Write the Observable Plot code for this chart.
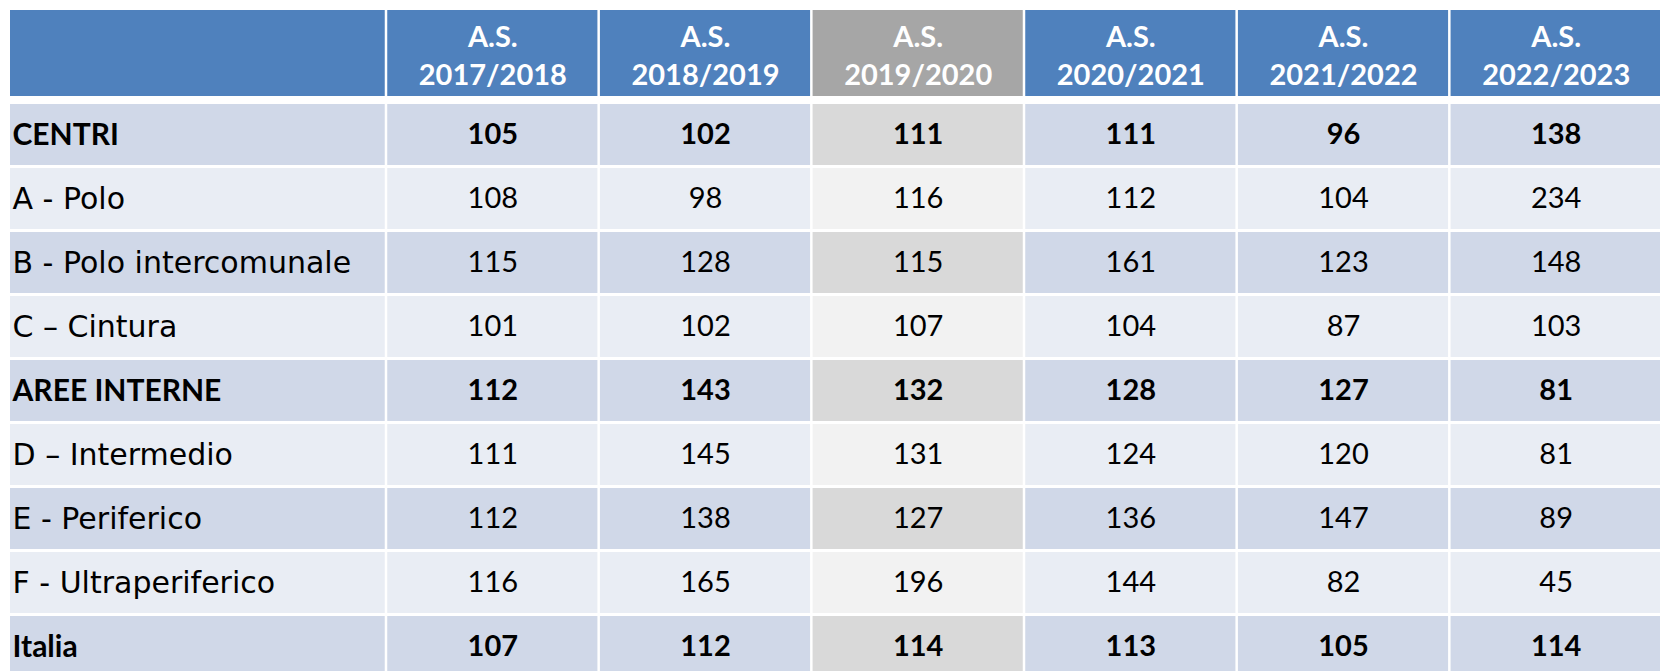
<!DOCTYPE html>
<html>
<head>
<meta charset="utf-8">
<script src="https://cdn.jsdelivr.net/npm/d3@7"></script>
<script src="https://cdn.jsdelivr.net/npm/@observablehq/plot@0.6"></script>
<style>
  html, body { margin: 0; padding: 0; background: #ffffff; }
  #chart svg { display: block; }
</style>
</head>
<body>
<div id="chart"></div>
<script>
// ---- data ----
const rowLabels = ["CENTRI", "A - Polo", "B - Polo intercomunale", "C – Cintura", "AREE INTERNE", "D – Intermedio", "E - Periferico", "F - Ultraperiferico", "Italia"];
const rowIsTotal = [true, false, false, false, true, false, false, false, true];
const years = ["2017/2018", "2018/2019", "2019/2020", "2020/2021", "2021/2022", "2022/2023"];
const as2017 = [105, 108, 115, 101, 112, 111, 112, 116, 107];
const as2018 = [102, 98, 128, 102, 143, 145, 138, 165, 112];
const as2019 = [111, 116, 115, 107, 132, 131, 127, 196, 114];
const as2020 = [111, 112, 161, 104, 128, 124, 136, 144, 113];
const as2021 = [96, 104, 123, 87, 127, 120, 147, 82, 105];
const as2022 = [138, 234, 148, 103, 81, 81, 89, 45, 114];
const series = [as2017, as2018, as2019, as2020, as2021, as2022];
const highlightYear = "2019/2020";

// ---- layout (in scale units) ----
const LABEL_SPAN = 1.768;   // label column width, in year-column units
const HDR = 94 / 64;        // header height, in row units
const W = 1660, H = 671;

const rows = rowLabels.map((label, r) => ({row: r, label, total: rowIsTotal[r]}));
const cells = years.flatMap((year, c) => series[c].map((value, r) => ({
  col: c, row: r, year, value, total: rowIsTotal[r]
})));
const headers = years.map((year, c) => ({col: c, year, text: "A.S.\n" + year}));

const rowFill = (r, hl) => hl ? (r % 2 === 0 ? "#d9d9d9" : "#f2f2f2") : (r % 2 === 0 ? "#d0d8e8" : "#e9edf4");
const FONT = "Lato, 'Open Sans', sans-serif";
const LABEL_FONT = "'DejaVu Sans', Lato, sans-serif";

const chart = Plot.plot({
  width: W,
  height: H,
  margin: 0,
  style: {background: "#ffffff", fontFamily: FONT},
  x: {type: "linear", domain: [-LABEL_SPAN, years.length], range: [10, W + 2], axis: null},
  y: {type: "linear", domain: [-HDR, (H - 104) / 64], range: [10, H], axis: null},
  color: {type: "identity"},
  marks: [
    // header: label column
    Plot.rect([0], {x1: -LABEL_SPAN, x2: 0, y1: -HDR, y2: 0, fill: "#4f81bd", insetRight: 1.25, insetBottom: 8}),
    // header: year columns
    Plot.rect(headers, {
      x1: d => d.col, x2: d => d.col + 1, y1: -HDR, y2: 0,
      fill: d => d.year === highlightYear ? "#a6a6a6" : "#4f81bd",
      insetLeft: 1.25, insetRight: 1.25, insetBottom: 8
    }),
    Plot.text(headers, {
      x: d => d.col + 0.5, y: -HDR / 2, dy: -4, text: "text",
      fill: "#ffffff", fontSize: 29, fontWeight: "bold", lineHeight: 1.31,
      textAnchor: "middle", lineAnchor: "middle"
    }),
    // body: label column
    Plot.rect(rows, {
      x1: -LABEL_SPAN, x2: 0, y1: d => d.row, y2: d => d.row + 1,
      fill: d => rowFill(d.row, false), insetRight: 1.25, insetBottom: 3
    }),
    // body: value cells
    Plot.rect(cells, {
      x1: d => d.col, x2: d => d.col + 1, y1: d => d.row, y2: d => d.row + 1,
      fill: d => rowFill(d.row, d.year === highlightYear),
      insetLeft: 1.25, insetRight: 1.25, insetBottom: 3
    }),
    // row labels
    Plot.text(rows.filter(d => d.total), {
      x: -LABEL_SPAN, dx: 2, y: d => d.row + 0.5, dy: -1.5, text: "label",
      textAnchor: "start", fill: "#000000", fontSize: 30, fontWeight: "bold"
    }),
    Plot.text(rows.filter(d => !d.total), {
      x: -LABEL_SPAN, dx: 2, y: d => d.row + 0.5, dy: -1.5, text: "label",
      textAnchor: "start", fill: "#000000", fontSize: 30, fontWeight: "normal",
      fontFamily: LABEL_FONT
    }),
    // values
    Plot.text(cells.filter(d => d.total), {
      x: d => d.col + 0.5, y: d => d.row + 0.5, dy: -1.5, text: d => String(d.value),
      textAnchor: "middle", fill: "#000000", fontSize: 29, fontWeight: "bold"
    }),
    Plot.text(cells.filter(d => !d.total), {
      x: d => d.col + 0.5, y: d => d.row + 0.5, dy: -1.5, text: d => String(d.value),
      textAnchor: "middle", fill: "#000000", fontSize: 29, fontWeight: "normal"
    })
  ]
});
document.getElementById("chart").appendChild(chart);
</script>
</body>
</html>
